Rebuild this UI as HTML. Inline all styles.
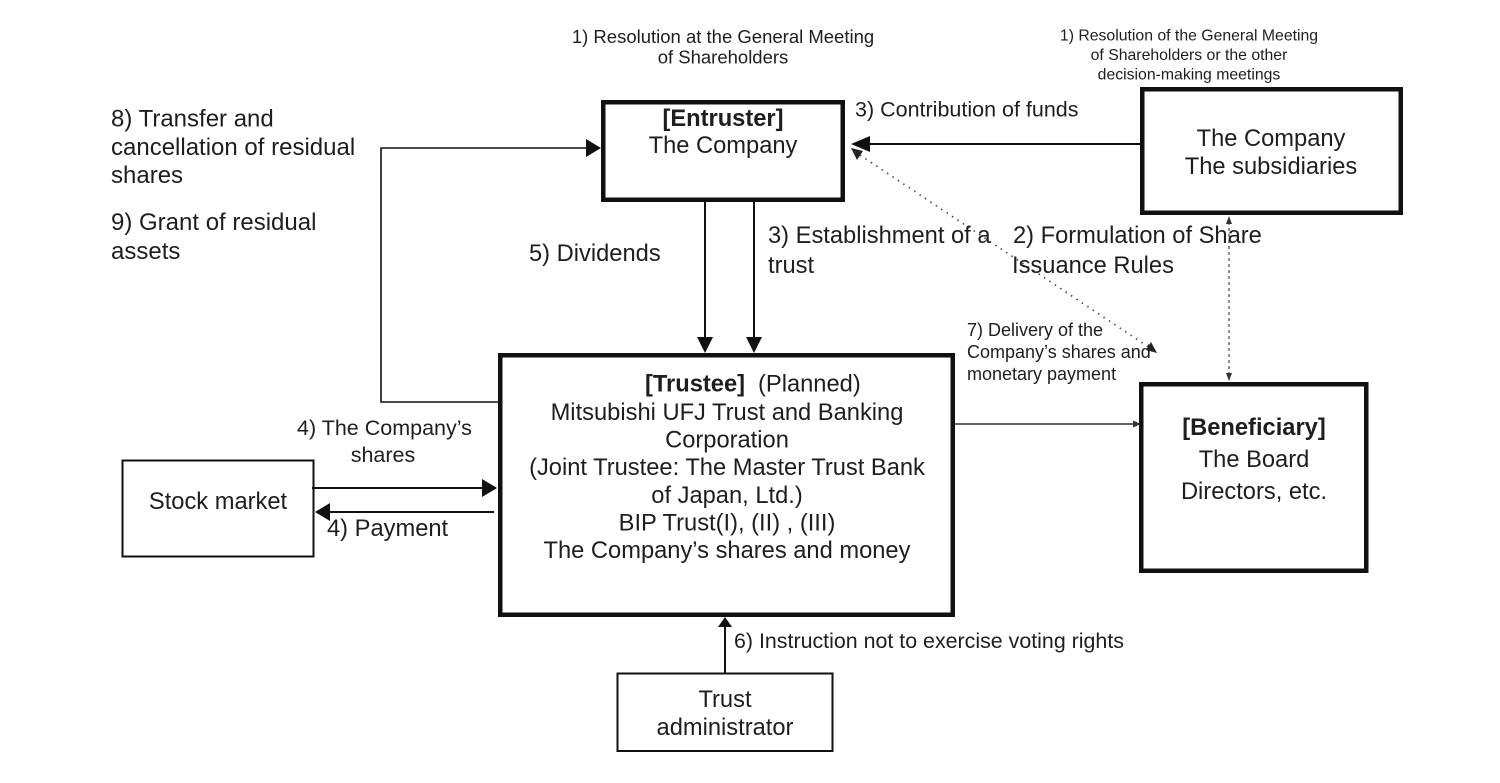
<!DOCTYPE html>
<html>
<head>
<meta charset="utf-8">
<style>
  html, body { margin: 0; padding: 0; background: #ffffff; }
  body { width: 1500px; height: 783px; overflow: hidden; }
  svg { display: block; }
  text { font-family: "Liberation Sans", Arial, sans-serif; fill: #1e1e1e; }
  .b { font-weight: bold; }
</style>
</head>
<body>
<svg width="1500" height="783" viewBox="0 0 1500 783" xmlns="http://www.w3.org/2000/svg">
  <rect x="0" y="0" width="1500" height="783" fill="#ffffff"/>

  <!-- ===== Boxes ===== -->
  <rect x="603.25" y="102.25" width="239.5" height="97.5" fill="none" stroke="#111" stroke-width="4.5"/>
  <rect x="1142.25" y="89.25" width="258.5" height="123.5" fill="none" stroke="#111" stroke-width="4.5"/>
  <rect x="500.25" y="355.25" width="452.5" height="259.5" fill="none" stroke="#111" stroke-width="4.5"/>
  <rect x="1141.25" y="384.25" width="225" height="186.5" fill="none" stroke="#111" stroke-width="4.5"/>
  <rect x="122.5" y="460.5" width="191" height="96" fill="none" stroke="#111" stroke-width="2"/>
  <rect x="617.5" y="673.5" width="215" height="77.5" fill="none" stroke="#111" stroke-width="2"/>

  <!-- ===== Solid connectors ===== -->
  <polyline points="498,402 381,402 381,148 588,148" fill="none" stroke="#111" stroke-width="1.6"/>
  <polygon points="601,148 586,139 586,157" fill="#111"/>

  <line x1="1140" y1="144" x2="868" y2="144" stroke="#111" stroke-width="2"/>
  <polygon points="851,144 870,136 870,152" fill="#111"/>

  <line x1="705" y1="202" x2="705" y2="340" stroke="#111" stroke-width="2"/>
  <polygon points="705,353 697,337 713,337" fill="#111"/>
  <line x1="754" y1="202" x2="754" y2="340" stroke="#111" stroke-width="2"/>
  <polygon points="754,353 746,337 762,337" fill="#111"/>

  <line x1="312" y1="488" x2="484" y2="488" stroke="#111" stroke-width="2"/>
  <polygon points="497,488 482,479 482,497" fill="#111"/>
  <line x1="494" y1="512" x2="328" y2="512" stroke="#111" stroke-width="2"/>
  <polygon points="315,512 330,503 330,521" fill="#111"/>

  <line x1="955" y1="424" x2="1134" y2="424" stroke="#333" stroke-width="1.5"/>
  <polygon points="1141,424 1133,420.5 1133,427.5" fill="#333"/>

  <line x1="725" y1="673" x2="725" y2="626" stroke="#111" stroke-width="2"/>
  <polygon points="725,617 718,627 732,627" fill="#111"/>

  <!-- ===== Dotted connectors ===== -->
  <line x1="1229" y1="222" x2="1229" y2="375" stroke="#555" stroke-width="1.3" stroke-dasharray="3,3"/>
  <polygon points="1229,216 1226,224 1232,224" fill="#333"/>
  <polygon points="1229,381 1226,373 1232,373" fill="#333"/>

  <line x1="860" y1="155" x2="1150" y2="348" stroke="#444" stroke-width="1.6" stroke-dasharray="1.5,5"/>
  <polygon points="851,148 863,151 857,160" fill="#222"/>
  <polygon points="1157,353 1146,350 1151,342" fill="#222"/>

  <!-- ===== Labels ===== -->
  <text x="723" y="43" font-size="18.5" text-anchor="middle">1) Resolution at the General Meeting</text>
  <text x="723" y="63.5" font-size="18.5" text-anchor="middle">of Shareholders</text>

  <text x="1189" y="40.5" font-size="15.8" text-anchor="middle">1) Resolution of the General Meeting</text>
  <text x="1189" y="60" font-size="15.8" text-anchor="middle">of Shareholders or the other</text>
  <text x="1189" y="79.5" font-size="15.8" text-anchor="middle">decision-making meetings</text>

  <text x="855" y="116.5" font-size="21.5">3) Contribution of funds</text>

  <text x="723" y="126" font-size="23.7" text-anchor="middle" class="b">[Entruster]</text>
  <text x="723" y="153" font-size="23.7" text-anchor="middle">The Company</text>

  <text x="1271" y="146" font-size="23.7" text-anchor="middle">The Company</text>
  <text x="1271" y="174" font-size="23.7" text-anchor="middle">The subsidiaries</text>

  <text x="111" y="126.5" font-size="24">8) Transfer and</text>
  <text x="111" y="155" font-size="24">cancellation of residual</text>
  <text x="111" y="183" font-size="24">shares</text>
  <text x="111" y="230" font-size="24">9) Grant of residual</text>
  <text x="111" y="259" font-size="24">assets</text>

  <text x="529" y="261" font-size="23.7">5) Dividends</text>
  <text x="768" y="243" font-size="23.7">3) Establishment of a</text>
  <text x="768" y="273" font-size="23.7">trust</text>

  <text x="1013" y="243" font-size="23.7">2) Formulation of Share</text>
  <text x="1012" y="273" font-size="23.7">Issuance Rules</text>

  <text x="967" y="336" font-size="18">7) Delivery of the</text>
  <text x="967" y="358" font-size="18">Company’s shares and</text>
  <text x="967" y="380" font-size="18">monetary payment</text>

  <text x="645" y="391.5" font-size="23.7" class="b">[Trustee]</text>
  <text x="758" y="391.5" font-size="23.7">(Planned)</text>
  <text x="727" y="420" font-size="23.7" text-anchor="middle">Mitsubishi UFJ Trust and Banking</text>
  <text x="727" y="447.5" font-size="23.7" text-anchor="middle">Corporation</text>
  <text x="727" y="475" font-size="23.7" text-anchor="middle">(Joint Trustee: The Master Trust Bank</text>
  <text x="727" y="503" font-size="23.7" text-anchor="middle">of Japan, Ltd.)</text>
  <text x="727" y="530.5" font-size="23.7" text-anchor="middle">BIP Trust(I), (II) , (III)</text>
  <text x="727" y="558" font-size="23.7" text-anchor="middle">The Company’s shares and money</text>

  <text x="218" y="509" font-size="23.7" text-anchor="middle">Stock market</text>
  <text x="297" y="435" font-size="21.5">4) The Company’s</text>
  <text x="383" y="462" font-size="21.5" text-anchor="middle">shares</text>
  <text x="327" y="536" font-size="23.7">4) Payment</text>

  <text x="1254" y="435" font-size="23.7" text-anchor="middle" class="b">[Beneficiary]</text>
  <text x="1254" y="467" font-size="23.7" text-anchor="middle">The Board</text>
  <text x="1254" y="499" font-size="23.7" text-anchor="middle">Directors, etc.</text>

  <text x="734" y="648" font-size="21.4">6) Instruction not to exercise voting rights</text>

  <text x="725" y="707" font-size="23.7" text-anchor="middle">Trust</text>
  <text x="725" y="735" font-size="23.7" text-anchor="middle">administrator</text>
</svg>
</body>
</html>
